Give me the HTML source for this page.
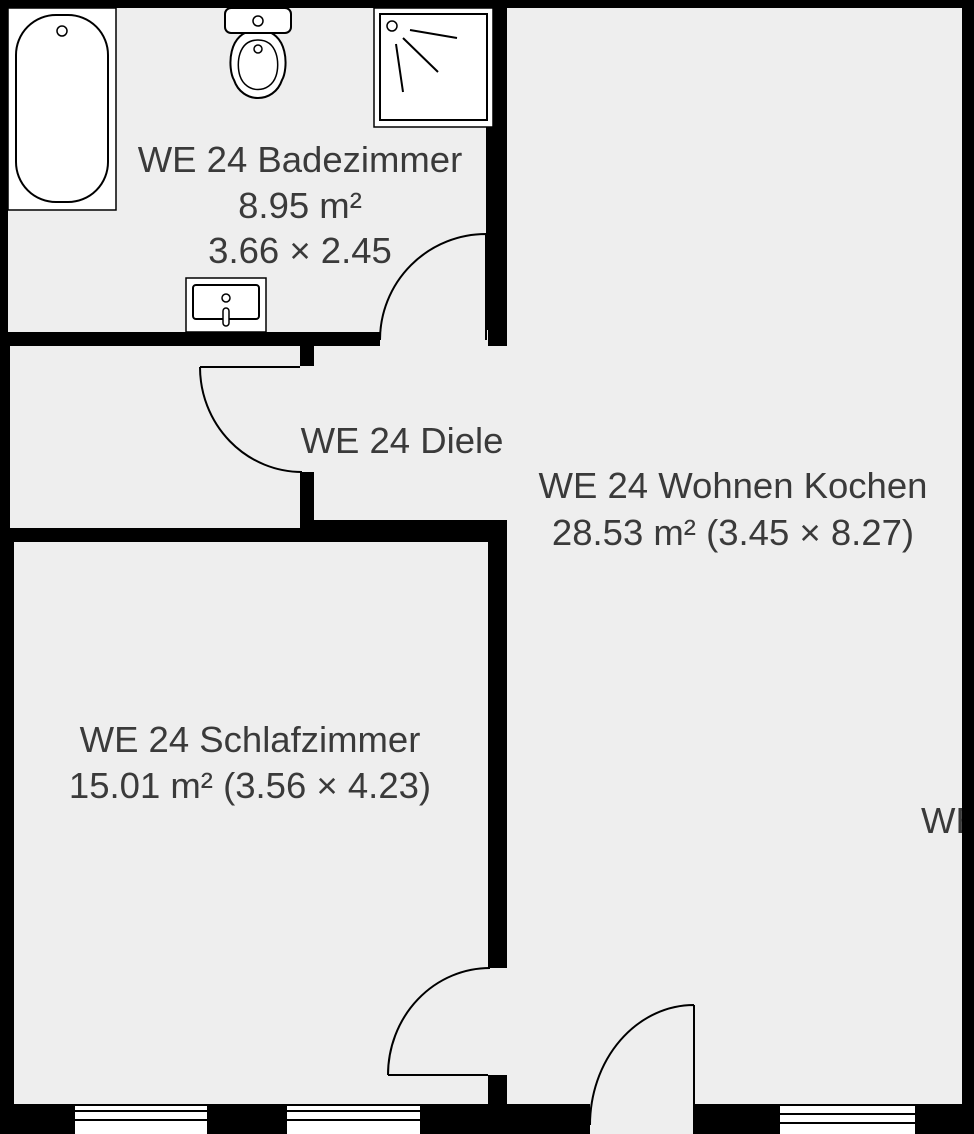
<!DOCTYPE html>
<html><head><meta charset="utf-8"><style>
html,body{margin:0;padding:0;background:#000;}
svg{display:block}
text{font-family:"Liberation Sans",sans-serif;font-size:36.5px;fill:#3a3a3a;}
</style></head><body>
<svg width="974" height="1134" viewBox="0 0 974 1134" xmlns="http://www.w3.org/2000/svg">
<rect width="974" height="1134" fill="#000"/>
<rect x="8" y="8" width="478" height="324" fill="#eeeeee"/>
<rect x="507" y="8" width="455" height="1096" fill="#eeeeee"/>
<rect x="10" y="346" width="290" height="182" fill="#eeeeee"/>
<rect x="314" y="346" width="194" height="174" fill="#eeeeee"/>
<rect x="380" y="330" width="108" height="18" fill="#eeeeee"/>
<rect x="486" y="346" width="22" height="174" fill="#eeeeee"/>
<rect x="300" y="366" width="16" height="106" fill="#eeeeee"/>
<rect x="14" y="542" width="474" height="562" fill="#eeeeee"/>
<rect x="486" y="968" width="22" height="107" fill="#eeeeee"/>
<rect x="590" y="1100" width="104" height="34" fill="#eeeeee"/>
<g fill="none" stroke="#000" stroke-width="2">
<path d="M486 234 L486 340 M486 234 A106 106 0 0 0 380 340"/>
<path d="M200 367 L300 367 M200 367 A102 105 0 0 0 302 472"/>
<path d="M388 1075 L488 1075 M388 1075 A102 107 0 0 1 490 968"/>
<path d="M694 1005 L694 1134 M694 1005 A104 120 0 0 0 590 1125"/>
</g>
<g>
<rect x="75" y="1106" width="132" height="28" fill="#fff"/>
<rect x="287" y="1106" width="133" height="28" fill="#fff"/>
<rect x="780" y="1106" width="135" height="28" fill="#fff"/>
<g stroke="#000" stroke-width="2">
<line x1="75" y1="1111" x2="207" y2="1111"/><line x1="75" y1="1120" x2="207" y2="1120"/>
<line x1="287" y1="1111" x2="420" y2="1111"/><line x1="287" y1="1120" x2="420" y2="1120"/>
<line x1="780" y1="1114" x2="915" y2="1114"/><line x1="780" y1="1123" x2="915" y2="1123"/>
</g>
</g>
<rect x="8" y="8" width="108" height="202" fill="#fff" stroke="#000" stroke-width="1.5"/>
<rect x="16" y="15" width="92" height="187" rx="40" fill="#fff" stroke="#000" stroke-width="2"/>
<circle cx="62" cy="31" r="5" fill="none" stroke="#000" stroke-width="1.5"/>
<path d="M258 30 C226 30 228 70 234 80 C242 104 274 104 282 80 C288 70 290 30 258 30Z" fill="#fff" stroke="#000" stroke-width="2"/>
<path d="M258 40 C238 40 236 64 240 76 C246 94 270 94 276 76 C280 64 278 40 258 40Z" fill="#fff" stroke="#000" stroke-width="1.5"/>
<rect x="225" y="8" width="66" height="25" rx="6" fill="#fff" stroke="#000" stroke-width="2"/>
<circle cx="258" cy="21" r="5" fill="none" stroke="#000" stroke-width="1.5"/>
<circle cx="258" cy="49" r="4" fill="none" stroke="#000" stroke-width="1.5"/>
<rect x="374" y="8" width="119" height="119" fill="#fff" stroke="#000" stroke-width="1.5"/>
<rect x="380" y="14" width="107" height="106" fill="#fff" stroke="#000" stroke-width="2"/>
<circle cx="392" cy="26" r="5" fill="none" stroke="#000" stroke-width="1.5"/>
<g stroke="#000" stroke-width="2"><line x1="410" y1="30" x2="457" y2="38"/><line x1="403" y1="38" x2="438" y2="72"/><line x1="396" y1="44" x2="403" y2="92"/></g>
<rect x="186" y="278" width="80" height="54" fill="#fff" stroke="#000" stroke-width="1.5"/>
<rect x="193" y="285" width="66" height="34" rx="3" fill="#fff" stroke="#000" stroke-width="2"/>
<circle cx="226" cy="298" r="4" fill="#fff" stroke="#000" stroke-width="1.5"/>
<rect x="223" y="308" width="6" height="18" rx="3" fill="#fff" stroke="#000" stroke-width="1.5"/>
<text x="300" y="172" text-anchor="middle">WE 24 Badezimmer</text>
<text x="300" y="218" text-anchor="middle">8.95 m²</text>
<text x="300" y="263" text-anchor="middle">3.66 × 2.45</text>
<text x="402" y="453" text-anchor="middle">WE 24 Diele</text>
<text x="733" y="498" text-anchor="middle">WE 24 Wohnen Kochen</text>
<text x="733" y="545" text-anchor="middle">28.53 m² (3.45 × 8.27)</text>
<text x="250" y="752" text-anchor="middle">WE 24 Schlafzimmer</text>
<text x="250" y="798" text-anchor="middle">15.01 m² (3.56 × 4.23)</text>
<text x="921" y="833">WE</text>
<rect x="962" y="0" width="12" height="1134" fill="#000"/>
</svg>
</body></html>
